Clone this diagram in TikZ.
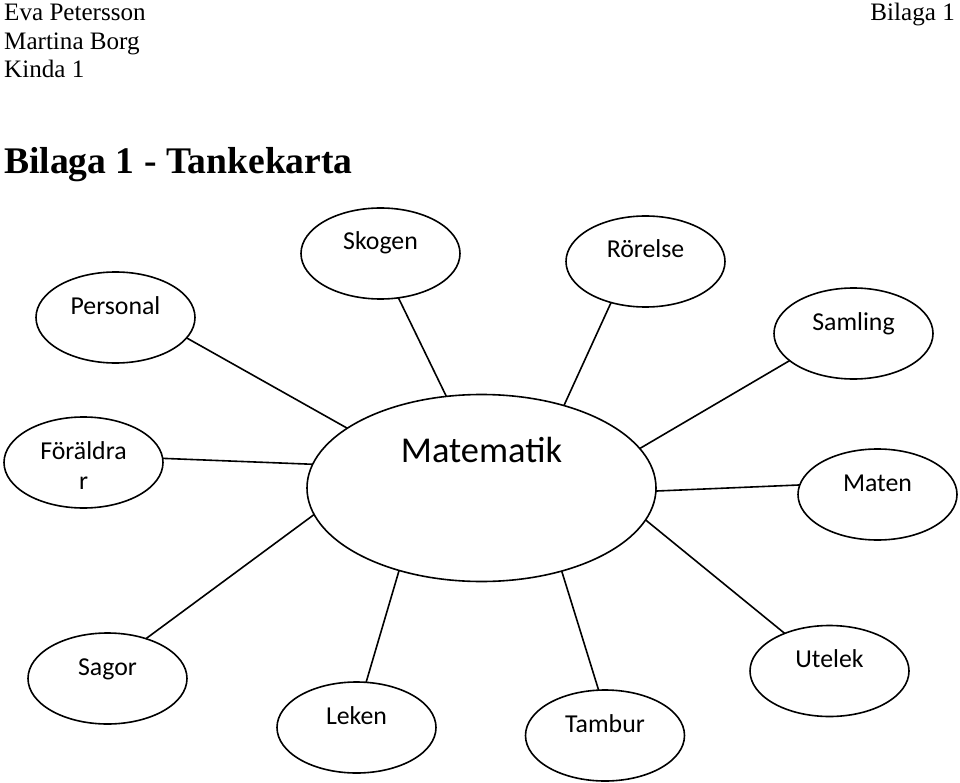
\documentclass[tikz,border=0pt]{standalone}
\usepackage{fontspec}
\setmainfont{Liberation Serif}
\newfontfamily\carl{Carlito}
\usetikzlibrary{shapes.geometric}
\begin{document}
\begin{tikzpicture}[x=1pt,y=-1pt,
  bubble/.style={ellipse, draw, line width=1.6pt, minimum width=159pt, minimum height=91pt,
    inner sep=0pt, outer sep=0pt, font=\carl\fontsize{25.8}{30}\selectfont,
    text height=8pt, text depth=15pt},
  link/.style={line width=1.6pt},
  head/.style={font=\fontsize{25.1}{29}\selectfont, inner sep=0pt, anchor=base west}]
\useasboundingbox (0,0) rectangle (960,783);
% header
\node[head] (n1) at (4,21) {Eva Petersson};
\node[head] (n2) at (4,50) {Martina Borg};
\node[head] (n3) at (4,78) {Kinda 1};
\node[head, anchor=base east] (n4) at (955,21) {Bilaga 1};
\node[font=\bfseries\fontsize{37.6}{44}\selectfont, inner sep=0pt, anchor=base west] (title) at (4,174) {Bilaga 1 - Tankekarta};
% centre
\node[ellipse, draw, line width=1.6pt, minimum width=349pt, minimum height=187pt,
  inner sep=0pt, outer sep=0pt, font=\carl\fontsize{36.4}{42}\selectfont,
  text height=10pt, text depth=62pt] (main) at (481.5,488) {Matematik};
% bubbles
\node[bubble] (pers) at (115.5,317.5) {Personal};
\node[bubble] (sko) at (380.5,253.5) {Skogen};
\node[bubble] (ror) at (645.5,261.5) {Rörelse};
\node[bubble] (sam) at (853.5,333.5) {Samling};
\node[bubble] (for) at (83.5,462.5) {\begin{tabular}[t]{@{}c@{}}Föräldra\\r\end{tabular}};
\node[bubble] (mat) at (877.5,494.5) {Maten};
\node[bubble] (sag) at (107.5,678.5) {Sagor};
\node[bubble] (lek) at (356.5,727.5) {Leken};
\node[bubble] (tam) at (605,735.5) {Tambur};
\node[bubble] (ute) at (829.5,671) {Utelek};
% connectors
\draw[link] (main.156.5) -- (pers.-16.8);
\draw[link] (main.111.4) -- (sko.-68.1);
\draw[link] (main.45.2) -- (ror.-130);
\draw[link] (main.14.5) -- (sam.-157.4);
\draw[link] (main.172.7) -- (for.3.9);
\draw[link] (main.189.1) -- (sag.46.6);
\draw[link] (main.-135.9) -- (lek.78);
\draw[link] (main.-46.6) -- (tam.98.7);
\draw[link] (main.-11.7) -- (ute.140.7);
\draw[link] (main.-1.65) -- (mat.173);
\end{tikzpicture}
\end{document}
